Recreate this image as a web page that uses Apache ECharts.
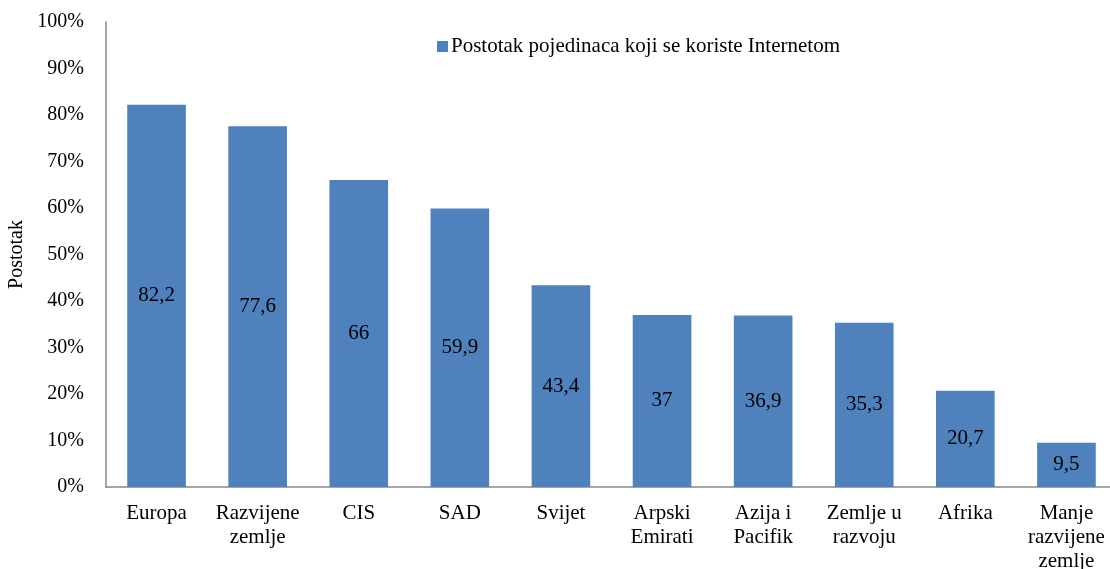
<!DOCTYPE html>
<html>
<head>
<meta charset="utf-8">
<title>Postotak pojedinaca koji se koriste Internetom</title>
<style>
	html, body { margin: 0; padding: 0; background: #fff; }
	#main { width: 1110px; height: 569px; }
</style>
</head>
<body>
<div id="main"></div>
<script src="https://cdn.jsdelivr.net/npm/echarts@6/dist/echarts.min.js"></script>
<script>
var categories = ['Europa', 'Razvijene\nzemlje', 'CIS', 'SAD', 'Svijet', 'Arpski\nEmirati', 'Azija i\nPacifik', 'Zemlje u\nrazvoju', 'Afrika', 'Manje\nrazvijene\nzemlje'];
var values = [82.2, 77.6, 66, 59.9, 43.4, 37, 36.9, 35.3, 20.7, 9.5];
var seriesName = 'Postotak pojedinaca koji se koriste Internetom';

var font = 'Liberation Serif';
var chart = echarts.init(document.getElementById('main'));
chart.setOption({
	animation: false,
	textStyle: { fontFamily: font },
	grid: { left: 106, right: -7, top: 22, bottom: 82, containLabel: false, outerBoundsMode: 'none' },
	legend: {
		data: [seriesName],
		icon: 'rect',
		left: 432, top: 31,
		itemWidth: 11, itemHeight: 11, itemGap: 4,
		textStyle: { fontFamily: font, fontSize: 21, color: '#000', padding: [0, 0, 0, -2] }
	},
	xAxis: {
		type: 'category',
		data: categories,
		axisLine: { lineStyle: { color: '#888', width: 1.5 } },
		axisTick: { show: false },
		axisLabel: { color: '#000', fontFamily: font, fontSize: 21, lineHeight: 24, margin: 14, interval: 0 }
	},
	yAxis: {
		type: 'value',
		min: 0, max: 100, interval: 10,
		name: 'Postotak',
		nameLocation: 'middle',
		nameGap: 78,
		nameTextStyle: { color: '#000', fontFamily: font, fontSize: 20 },
		splitLine: { show: false },
		axisLine: { show: true, lineStyle: { color: '#888', width: 1.5 } },
		axisTick: { show: false },
		axisLabel: { color: '#000', fontFamily: font, fontSize: 20, margin: 22, formatter: '{value}%' }
	},
	series: [{
		name: seriesName,
		type: 'bar',
		data: values,
		barCategoryGap: '42%',
		itemStyle: { color: '#4F81BD' },
		label: {
			show: true, position: 'inside', color: '#000', fontFamily: font, fontSize: 21,
			formatter: function (p) { return String(p.value).replace('.', ','); }
		}
	}]
});
</script>
</body>
</html>
